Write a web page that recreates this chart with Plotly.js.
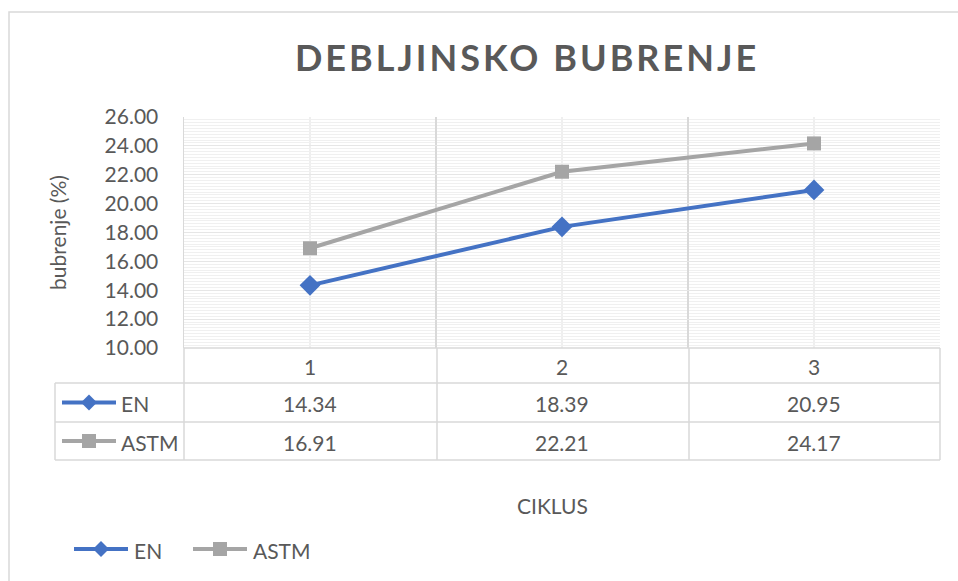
<!DOCTYPE html>
<html>
<head>
<meta charset="utf-8">
<script src="https://cdn.plot.ly/plotly-3.0.1.min.js"></script>
<style>
  html, body { margin: 0; padding: 0; background: #fff; }
  #chart { width: 958px; height: 581px; }
  .gtitle { letter-spacing: 3px; }
</style>
</head>
<body>
<div id="chart"></div>
<script>
// ---- data ----
const categories = ['1', '2', '3'];
const xPos = [1, 2, 3];
const seriesNames = ['EN', 'ASTM'];
const enValues = [14.34, 18.39, 20.95];
const astmValues = [16.91, 22.21, 24.17];
const yTickVals = [10, 12, 14, 16, 18, 20, 22, 24, 26];

// ---- layout helpers (pixel -> paper) ----
const W = 958, H = 581;
const L = 184, R = 940, T = 117, B = 348;
const pw = R - L, ph = B - T;
const px = v => (v - L) / pw;
const py = v => (B - v) / ph;

const blue = '#4472C4', gray = '#A5A5A5', txt = '#595959', grid = '#d9d9d9';
const FONT = 'Lato, "Open Sans", sans-serif';
const FS = 21;
const colors = [blue, gray];

const traces = [
  {
    x: xPos, y: enValues, name: seriesNames[0], type: 'scatter', mode: 'lines+markers',
    line: { color: blue, width: 4 },
    marker: { symbol: 'diamond', size: 16, color: blue }
  },
  {
    x: xPos, y: astmValues, name: seriesNames[1], type: 'scatter', mode: 'lines+markers',
    line: { color: gray, width: 4 },
    marker: { symbol: 'square', size: 14, color: gray }
  }
];

const shapes = [];
const annotations = [];
const line = (x0, y0, x1, y1, c, w) => shapes.push({
  type: 'line', xref: 'paper', yref: 'paper',
  x0: px(x0), y0: py(y0), x1: px(x1), y1: py(y1),
  line: { color: c || grid, width: w || 1.5 }, layer: 'above'
});
const txtAnn = (xp, yp, text, xanchor) => annotations.push({
  x: px(xp), xref: 'paper', y: py(yp), yref: 'paper', text: text, showarrow: false,
  xanchor: xanchor || 'center', yanchor: 'middle',
  font: { family: FONT, size: FS, color: txt }
});
// legend key: line + marker, centred at (cx, cy), total length len
const key = (cx, cy, len, r) => {
  line(cx - len / 2, cy, cx + len / 2, cy, colors[r], 4);
  if (r === 0) {
    shapes.push({ type: 'path', xref: 'paper', yref: 'paper', layer: 'above',
      path: `M ${px(cx)} ${py(cy - 8)} L ${px(cx + 8)} ${py(cy)} L ${px(cx)} ${py(cy + 8)} L ${px(cx - 8)} ${py(cy)} Z`,
      fillcolor: blue, line: { width: 0 } });
  } else {
    shapes.push({ type: 'rect', xref: 'paper', yref: 'paper', layer: 'above',
      x0: px(cx - 7), x1: px(cx + 7), y0: py(cy - 7), y1: py(cy + 7),
      fillcolor: gray, line: { width: 0 } });
  }
};

// outer chart border
shapes.push({ type: 'rect', xref: 'paper', yref: 'paper',
  x0: px(9), y0: py(12), x1: px(1000), y1: py(620),
  line: { color: grid, width: 1.5 }, layer: 'below' });

// data table lines
const rowY = [348, 383, 422, 460];
line(184, 348, 940, 348);
[383, 422, 460].forEach(y => line(55, y, 940, y));
line(55, 383, 55, 460);
[184, 437, 689, 940].forEach(x => line(x, 348, x, 460));

// header row: categories
categories.forEach((c, i) => annotations.push({
  x: xPos[i], xref: 'x', y: py((rowY[0] + rowY[1]) / 2 + 1), yref: 'paper',
  xanchor: 'center', yanchor: 'middle',
  text: c, showarrow: false, font: { family: FONT, size: FS, color: txt }
}));
// value rows
[enValues, astmValues].forEach((vals, r) => {
  const ypx = (rowY[r + 1] + rowY[r + 2]) / 2 + 1;
  vals.forEach((v, i) => annotations.push({
    x: xPos[i], xref: 'x', y: py(ypx), yref: 'paper',
    xanchor: 'center', yanchor: 'middle',
    text: v.toFixed(2), showarrow: false, font: { family: FONT, size: FS, color: txt }
  }));
  key(89, ypx - 1, 54, r);
  txtAnn(119, ypx, seriesNames[r], 'left');
});

// x axis title
txtAnn(552, 505, 'CIKLUS');

// bottom legend
key(101, 549, 54, 0);
txtAnn(132, 550, seriesNames[0], 'left');
key(220, 549, 54, 1);
txtAnn(251, 550, seriesNames[1], 'left');

const layout = {
  width: W, height: H,
  margin: { l: L, r: W - R, t: T, b: H - B },
  paper_bgcolor: '#fff', plot_bgcolor: '#fff',
  font: { family: FONT, color: txt },
  title: {
    text: '<b>DEBLJINSKO BUBRENJE</b>',
    font: { family: FONT, size: 36, color: txt },
    x: 527 / W, xanchor: 'center', xref: 'container',
    y: 1 - 58 / H, yanchor: 'middle', yref: 'container'
  },
  xaxis: {
    range: [0.5, 3.5], tickmode: 'array', tickvals: [0.5, 1.5, 2.5, 3.5],
    showticklabels: false, ticks: '', showgrid: true, gridcolor: grid, gridwidth: 1.5,
    zeroline: false, showline: false,
    minor: { tickmode: 'array', tickvals: xPos, showgrid: true, gridcolor: '#efefef', gridwidth: 1.5, ticks: '' }
  },
  yaxis: {
    range: [10, 26], tickmode: 'array', tickvals: yTickVals, tickformat: '.2f',
    showgrid: true, gridcolor: '#e6e6e6', gridwidth: 1, zeroline: false,
    showline: true, linecolor: grid, linewidth: 1.5,
    ticks: 'outside', ticklen: 20, tickcolor: 'rgba(0,0,0,0)',
    tickfont: { family: FONT, size: FS, color: txt },
    minor: { dtick: 0.2, showgrid: true, gridcolor: '#f0f0f0', gridwidth: 1, ticks: '' },
    title: { text: 'bubrenje (%)', font: { family: FONT, size: FS, color: txt }, standoff: 32 }
  },
  showlegend: false,
  shapes: shapes,
  annotations: annotations
};

Plotly.newPlot('chart', traces, layout, { displayModeBar: false, staticPlot: true });
</script>
</body>
</html>
